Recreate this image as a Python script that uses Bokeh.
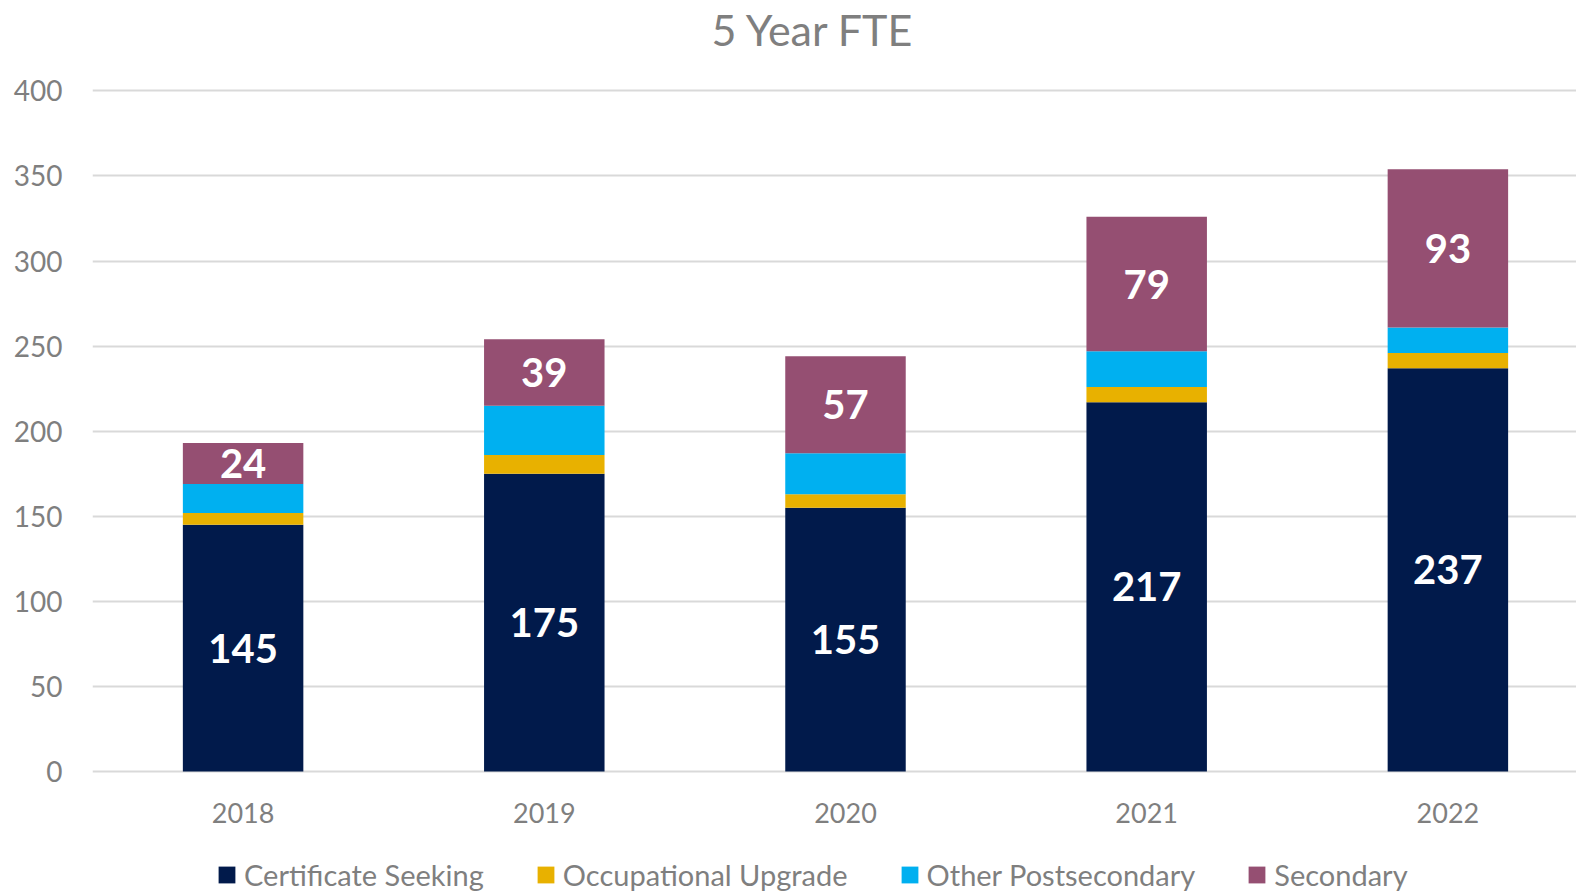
from bokeh.plotting import figure
from bokeh.models import (ColumnDataSource, Range1d, FixedTicker, Legend, LegendItem, Title)
from bokeh.core.properties import value
from bokeh.embed import file_html
from bokeh.resources import INLINE

years = ["2018", "2019", "2020", "2021", "2022"]
certificate = [145, 175, 155, 217, 237]
occupational = [7, 11, 8, 9, 9]
other_post = [17, 29, 24, 21, 15]
secondary = [24, 39, 57, 79, 93]

series = ["Certificate Seeking", "Occupational Upgrade", "Other Postsecondary", "Secondary"]
colors = ["#011A4B", "#E8B100", "#00B0F0", "#954F72"]

FONT = "Lato"
GRAY = "#7F7F7F"

xs = [i + 0.5 for i in range(len(years))]
src = ColumnDataSource(dict(
    x=xs,
    c=certificate, o=occupational, p=other_post, s=secondary,
))

# the frame reaches the page bottom so that the category labels and legend sit inside it
p = figure(frame_width=1484, frame_height=805, output_backend="svg", toolbar_location=None,
           x_range=Range1d(0, 4.927), y_range=Range1d(-71.1, 402),
           min_border_left=92, min_border_right=0, min_border_top=87, min_border_bottom=0)
p.outline_line_color = None
p.background_fill_color = "white"
p.border_fill_color = "white"

renderers = p.vbar_stack(["c", "o", "p", "s"], x="x", width=0.4, source=src,
                         fill_color=colors, line_color=None)

# data labels
lab_cert_y = [c / 2 for c in certificate]
lab_sec_y = [c + o + q + s / 2 for c, o, q, s in zip(certificate, occupational, other_post, secondary)]
lsrc = ColumnDataSource(dict(
    x=xs + xs,
    y=lab_cert_y + lab_sec_y,
    t=[str(v) for v in certificate] + [str(v) for v in secondary],
))
p.text(x="x", y="y", text="t", source=lsrc, text_color="white",
       text_font=value(FONT), text_font_style="bold", text_font_size="40px",
       text_align="center", text_baseline="middle")

# category labels under the bars
csrc = ColumnDataSource(dict(x=xs, y=[0] * len(xs), t=years))
p.text(x="x", y="y", text="t", source=csrc, text_color=GRAY, y_offset=41,
       text_font=value(FONT), text_font_size="27px",
       text_align="center", text_baseline="middle")

# axes
p.xaxis.visible = False
p.yaxis.ticker = FixedTicker(ticks=[0, 50, 100, 150, 200, 250, 300, 350, 400])
p.yaxis.axis_line_color = None
p.yaxis.major_tick_line_color = None
p.yaxis.minor_tick_line_color = None
p.yaxis.major_tick_out = 0
p.yaxis.major_tick_in = 0
p.yaxis.major_label_text_font = FONT
p.yaxis.major_label_text_color = GRAY
p.yaxis.major_label_text_font_size = "28px"
p.yaxis.major_label_standoff = 30

p.xgrid.grid_line_color = None
p.ygrid.grid_line_color = "#D9D9D9"
p.ygrid.grid_line_width = 2

# legend
items = [LegendItem(label=n, renderers=[r]) for n, r in zip(series, renderers)]
legend = Legend(items=items, orientation="horizontal", location=(124, 0), nrows=1,
                glyph_width=21, glyph_height=21, label_standoff=7, spacing=51,
                padding=0, margin=0, border_line_color=None,
                label_text_font=FONT, label_text_font_size="29px",
                label_text_color=GRAY, background_fill_alpha=0)
p.add_layout(legend, "center")

# title (a blank spacer title sits between it and the frame to lift it)
p.title = Title(text="5 Year FTE", text_font=FONT, text_font_size="43px",
                text_font_style="normal", text_color=GRAY, align="left", offset=619,
                vertical_align="top", standoff=0)
p.add_layout(Title(text=" ", text_font_size="10px", standoff=18), "above")

open("out.html", "w").write(file_html(p, INLINE))
